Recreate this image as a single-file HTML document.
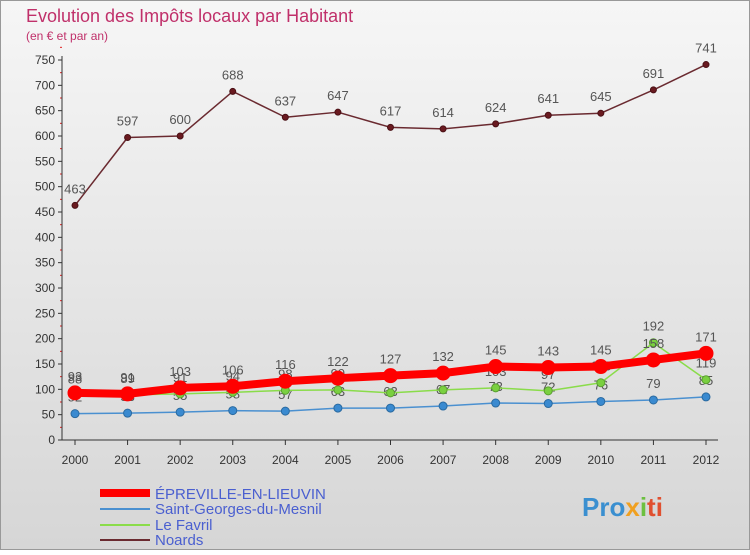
<!DOCTYPE html>
<html><head><meta charset="utf-8"><style>
body{margin:0;width:750px;height:550px;overflow:hidden;font-family:"Liberation Sans",sans-serif}
</style></head><body>
<svg width="750" height="550" xmlns="http://www.w3.org/2000/svg" id="svg" font-family="Liberation Sans, sans-serif">
<defs><linearGradient id="bg" x1="0" y1="0" x2="0" y2="1"><stop offset="0" stop-color="#f6f6f6"/><stop offset="1" stop-color="#d6d6d6"/></linearGradient></defs>
<rect x="0.5" y="0.5" width="749" height="549" fill="url(#bg)" stroke="#999"/>
<text x="26" y="22" font-size="18" fill="#c0306a">Evolution des Impôts locaux par Habitant</text>
<text x="26" y="40" font-size="12" fill="#c0306a">(en € et par an)</text>
<g id="axes"></g><g id="series"></g>
<g font-size="15">
<rect x="100" y="489" width="50" height="8" fill="#f00"/>
<text x="155" y="499" fill="#4a5fd0">ÉPREVILLE-EN-LIEUVIN</text>
<line x1="100" y1="509" x2="150" y2="509" stroke="#4a90d0" stroke-width="2"/>
<text x="155" y="514" fill="#4a5fd0">Saint-Georges-du-Mesnil</text>
<line x1="100" y1="525" x2="150" y2="525" stroke="#8adc4a" stroke-width="2"/>
<text x="155" y="530" fill="#4a5fd0">Le Favril</text>
<line x1="100" y1="540" x2="150" y2="540" stroke="#6a2a30" stroke-width="2"/>
<text x="155" y="545" fill="#4a5fd0">Noards</text>
</g>
<text x="582" y="516" font-size="26" font-weight="bold" fill="#3a8fd0">Pro<tspan fill="#f0a020">x</tspan><tspan fill="#6cc040">i</tspan><tspan fill="#e05030">ti</tspan></text>
</svg>
<script>
const years=["2000","2001","2002","2003","2004","2005","2006","2007","2008","2009","2010","2011","2012"];
const epreville=[93,91,103,106,116,122,127,132,145,143,145,158,171];
const saintGeorges=[52,53,55,58,57,63,63,67,73,72,76,79,85];
const leFavril=[88,89,91,94,98,99,93,99,103,97,113,192,119];
const noards=[463,597,600,688,637,647,617,614,624,641,645,691,741];
const yTicks=[0,50,100,150,200,250,300,350,400,450,500,550,600,650,700,750];
const NS="http://www.w3.org/2000/svg";
const X=i=>75+i*(706-75)/12, Y=v=>440-v*380/750;
function mk(p,t,a){const e=document.createElementNS(NS,t);for(const k in a)e.setAttribute(k,a[k]);p.appendChild(e);return e;}
const axes=document.getElementById('axes'),ser=document.getElementById('series');
yTicks.forEach(v=>{
const t=mk(axes,'text',{x:55,y:Y(v)+4,'text-anchor':'end','font-size':12,fill:'#333'});t.textContent=v;

mk(axes,'line',{x1:58,x2:62,y1:Y(v),y2:Y(v),stroke:'#333'});
mk(axes,'line',{x1:60,x2:62,y1:Y(v+25),y2:Y(v+25),stroke:'#e02020'});});
mk(axes,'line',{x1:62,x2:62,y1:56,y2:440,stroke:'#333'});
mk(axes,'line',{x1:62,x2:718,y1:440,y2:440,stroke:'#333'});
years.forEach((y,i)=>{mk(axes,'line',{x1:X(i),x2:X(i),y1:440,y2:445,stroke:'#333'});
const t=mk(axes,'text',{x:X(i),y:464,'text-anchor':'middle','font-size':12,fill:'#333'});t.textContent=y;
});
function series(name,data,color,w,r,dotColor,stroke){
const g=mk(ser,'g',{});
mk(g,'polyline',{points:data.map((v,i)=>X(i)+','+Y(v)).join(' '),fill:'none',stroke:color,'stroke-width':w,'stroke-linejoin':'round'});
data.forEach((v,i)=>{const c=mk(g,'circle',{cx:X(i),cy:Y(v),r:r,fill:dotColor,stroke:stroke,'stroke-width':1});

const t=mk(g,'text',{x:X(i),y:Y(v)-12,'text-anchor':'middle','font-size':13,fill:'#555'});t.textContent=v;
});}
series('series-noards',noards,'#6a2a30',1.5,3,'#6a1a20','#4a1015');
series('series-saint-georges',saintGeorges,'#4a90d0',1.5,4,'#3a8ad0','#2a6aa0');
series('series-le-favril',leFavril,'#8adc4a',1.5,4,'#7ad040','#5aa030');
series('series-epreville',epreville,'#f00',8,7,'#f00','#f00');
</script>
</body></html>
